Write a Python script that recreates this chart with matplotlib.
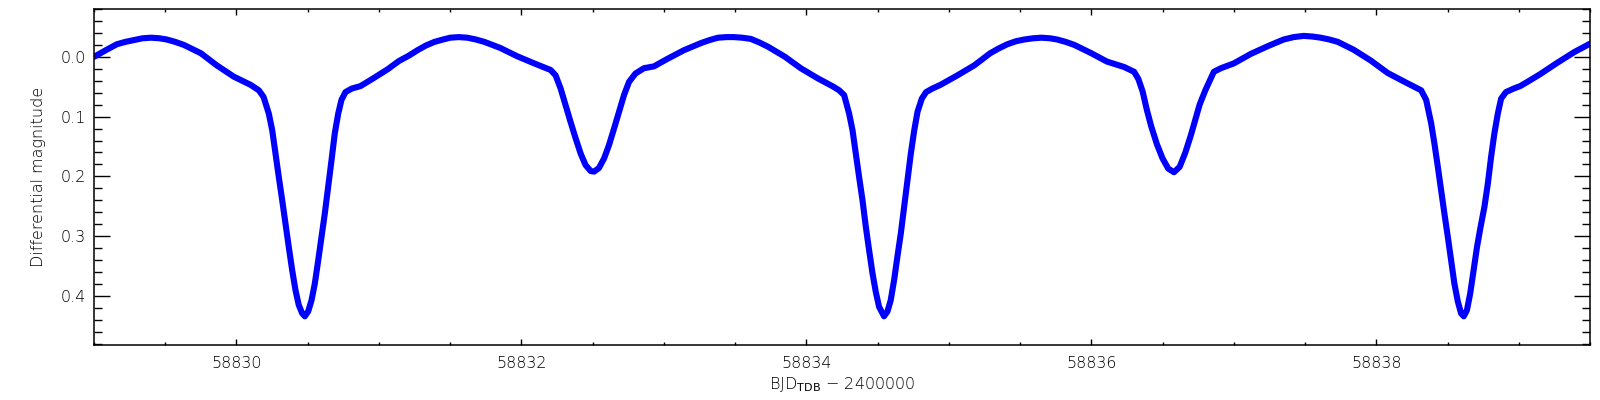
import numpy as np
import matplotlib
matplotlib.use('Agg')
import matplotlib.pyplot as plt
from matplotlib.ticker import MultipleLocator, FormatStrFormatter

# Light curve (BJD_TDB - 2400000, differential magnitude)
t_part1 = [58829.00, 58829.09, 58829.16, 58829.22, 58829.28, 58829.34, 58829.40,
           58829.46, 58829.51, 58829.57, 58829.63, 58829.69, 58829.75, 58829.86,
           58829.98, 58830.10, 58830.157, 58830.19, 58830.227, 58830.251, 58830.274,
           58830.297, 58830.321, 58830.344, 58830.367, 58830.391, 58830.414,
           58830.437, 58830.461, 58830.48, 58830.503, 58830.527, 58830.55,
           58830.574, 58830.597, 58830.62, 58830.644, 58830.667, 58830.69,
           58830.714, 58830.737, 58830.765, 58830.81, 58830.87, 58830.96,
           58831.06, 58831.14]
m_part1 = [0.000, -0.012, -0.021, -0.025, -0.028, -0.031, -0.032,
           -0.031, -0.029, -0.025, -0.020, -0.013, -0.006, 0.014,
           0.033, 0.047, 0.056, 0.067, 0.095, 0.123, 0.162,
           0.201, 0.240, 0.279, 0.318, 0.357, 0.390,
           0.415, 0.429, 0.434, 0.426, 0.407, 0.379,
           0.340, 0.301, 0.262, 0.217, 0.173, 0.128,
           0.095, 0.072, 0.059, 0.053, 0.049, 0.036,
           0.021, 0.007]

t_part2 = [58831.21, 58831.27, 58831.33, 58831.39, 58831.45, 58831.50, 58831.56,
           58831.62, 58831.68, 58831.74, 58831.85, 58831.97, 58832.09, 58832.205,
           58832.24, 58832.275, 58832.31, 58832.345, 58832.38, 58832.416,
           58832.45, 58832.486, 58832.51, 58832.544, 58832.58, 58832.614,
           58832.65, 58832.685, 58832.72, 58832.755, 58832.80, 58832.86,
           58832.93, 58833.02, 58833.14, 58833.26, 58833.32, 58833.38, 58833.44,
           58833.49, 58833.55, 58833.61, 58833.67, 58833.73, 58833.85, 58833.96]
m_part2 = [-0.002, -0.011, -0.019, -0.025, -0.029, -0.032, -0.033,
           -0.032, -0.029, -0.025, -0.015, -0.001, 0.011, 0.022,
           0.031, 0.053, 0.081, 0.109, 0.136, 0.162,
           0.181, 0.191, 0.192, 0.186, 0.170, 0.148,
           0.120, 0.092, 0.064, 0.042, 0.028, 0.019,
           0.016, 0.004, -0.011, -0.023, -0.028, -0.032, -0.033,
           -0.033, -0.032, -0.030, -0.024, -0.017, 0.000, 0.019]

t_part3 = [58834.08, 58834.19, 58834.23, 58834.265, 58834.30, 58834.324, 58834.347,
           58834.370, 58834.394, 58834.417, 58834.440, 58834.464, 58834.487, 58834.510,
           58834.545, 58834.569, 58834.592, 58834.616, 58834.639, 58834.663,
           58834.686, 58834.710, 58834.733, 58834.757, 58834.780, 58834.81,
           58834.84, 58834.885, 58834.94, 58835.06, 58835.18, 58835.29,
           58835.35, 58835.41, 58835.47, 58835.53, 58835.59, 58835.65, 58835.71,
           58835.76, 58835.82, 58835.88, 58836.00, 58836.11, 58836.23, 58836.30,
           58836.33, 58836.36, 58836.39, 58836.42, 58836.46, 58836.50, 58836.54,
           58836.58, 58836.62, 58836.66, 58836.70, 58836.73, 58836.76]
m_part3 = [0.036, 0.050, 0.056, 0.064, 0.095, 0.123, 0.162,
           0.201, 0.240, 0.284, 0.323, 0.362, 0.393, 0.418,
           0.434, 0.426, 0.407, 0.373, 0.334, 0.295,
           0.251, 0.206, 0.162, 0.123, 0.092, 0.070,
           0.059, 0.053, 0.047, 0.031, 0.014, -0.006,
           -0.014, -0.021, -0.026, -0.029, -0.031, -0.032, -0.031,
           -0.029, -0.025, -0.020, -0.006, 0.008, 0.017, 0.025,
           0.037, 0.058, 0.089, 0.116, 0.146, 0.170, 0.187,
           0.193, 0.184, 0.160, 0.130, 0.105, 0.080]

t_part4 = [58836.80, 58836.86, 58836.91, 58837.00, 58837.12, 58837.24, 58837.30,
           58837.35, 58837.42, 58837.49, 58837.55, 58837.61, 58837.67, 58837.73,
           58837.84, 58837.96, 58838.08, 58838.20, 58838.315, 58838.350, 58838.385,
           58838.408, 58838.432, 58838.455, 58838.478, 58838.502, 58838.525,
           58838.548, 58838.572, 58838.595, 58838.614, 58838.636, 58838.659,
           58838.683, 58838.707, 58838.730, 58838.759, 58838.783, 58838.806,
           58838.829, 58838.853, 58838.876, 58838.91, 58838.965, 58839.01,
           58839.06, 58839.15, 58839.27, 58839.39, 58839.50]
m_part4 = [0.056, 0.025, 0.019, 0.011, -0.005, -0.018, -0.024,
           -0.029, -0.033, -0.035, -0.034, -0.032, -0.029, -0.025,
           -0.012, 0.006, 0.027, 0.042, 0.056, 0.072, 0.111,
           0.145, 0.184, 0.223, 0.262, 0.301, 0.340,
           0.379, 0.409, 0.429, 0.434, 0.424, 0.396,
           0.357, 0.318, 0.287, 0.251, 0.212, 0.167,
           0.128, 0.095, 0.070, 0.059, 0.053, 0.049,
           0.042, 0.029, 0.010, -0.008, -0.022]

x_ticks = [58830, 58832, 58834, 58836, 58838]

fig = plt.figure(figsize=(16, 4), dpi=100)
ax = fig.add_axes([0.05875, 0.1375, 0.935, 0.84])

bjd = t_part1 + t_part2 + t_part3 + t_part4
dmag = m_part1 + m_part2 + m_part3 + m_part4
ax.plot(bjd, dmag, color='#0000ff', lw=4.4, solid_capstyle='round',
        solid_joinstyle='round')

ax.set_xlim(58829.0, 58839.5)
ax.set_ylim(0.482, -0.08)

ax.set_xticks(x_ticks)
ax.xaxis.set_major_formatter(FormatStrFormatter('%d'))
ax.xaxis.set_minor_locator(MultipleLocator(0.5))
ax.yaxis.set_major_locator(MultipleLocator(0.1))
ax.yaxis.set_minor_locator(MultipleLocator(0.02))
ax.yaxis.set_major_formatter(FormatStrFormatter('%.1f'))

ax.tick_params(axis='both', which='both', direction='in', top=True, right=True,
               labelsize=11.5, width=1.0)
ax.tick_params(axis='x', which='major', length=4.5, pad=8)
ax.tick_params(axis='x', which='minor', length=2.3)
ax.tick_params(axis='y', which='major', length=11.5, pad=6)
ax.tick_params(axis='y', which='minor', length=5.5)
for lab in ax.get_xticklabels() + ax.get_yticklabels():
    lab.set_fontweight('light')
for sp in ax.spines.values():
    sp.set_linewidth(1.1)

ax.set_xlabel('BJD$_{\\mathrm{TDB}}$ \u2212 2400000', fontsize=11.5, labelpad=3,
              fontweight='light')
ax.set_ylabel('Differential magnitude', fontsize=11.5, labelpad=10,
              fontweight='light')

fig.savefig('out.png', dpi=100)
